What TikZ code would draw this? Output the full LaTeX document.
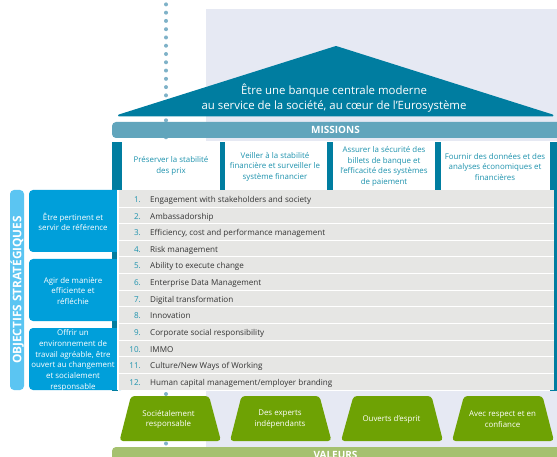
\documentclass[tikz,border=0pt]{standalone}
\usepackage{fontspec}
\setmainfont{Open Sans}
\definecolor{lav}{HTML}{E6E9F3}
\definecolor{teal1}{HTML}{007DA0}
\definecolor{teal2}{HTML}{61A5BC}
\definecolor{tealtxt}{HTML}{1F93AE}
\definecolor{dotc}{HTML}{7FB2C8}
\definecolor{blue1}{HTML}{009FDA}
\definecolor{blue2}{HTML}{5BC5F2}
\definecolor{rowc}{HTML}{E6E6E4}
\definecolor{green1}{HTML}{6EA204}
\definecolor{green2}{HTML}{A5C16F}
\tikzset{
  bartext/.style={font=\fontsize{10}{11}\selectfont\bfseries,text=white,inner sep=0pt},
  missiontext/.style={font=\fontsize{7.9}{10.5}\selectfont,text=tealtxt,align=center,inner sep=0pt},
  goaltext/.style={font=\fontsize{7.9}{10.7}\selectfont,text=white,align=center,inner sep=0pt},
  numtext/.style={font=\fontsize{8.1}{9}\selectfont,text=tealtxt,anchor=base east,inner sep=0pt},
  rowtext/.style={font=\fontsize{8.1}{9}\selectfont,text=black!80,anchor=base west,inner sep=0pt},
  valtext/.style={font=\fontsize{7.9}{10.8}\selectfont,text=white,align=center,inner sep=0pt},
  trap/.style={fill=green1,draw=none,rounded corners=3.5pt},
  pillar/.style={fill=teal1,draw=none},
  dotm/.style={fill=dotc,draw=none},
}
\begin{document}
\begin{tikzpicture}[x=1pt,y=-1pt]
\useasboundingbox (0,0) rectangle (557,457);
\clip (0,0) rectangle (557,457);
\fill[white] (0,0) rectangle (557,457);
% background
\fill[lav] (206,9) rectangle (557,141);
\fill[lav] (206,391) rectangle (557,450);
% dots
\foreach \i in {0,...,11} \fill[dotm] (166,{4.4+8.27*\i}) circle (2);
\foreach \yy in {120.3,137.3,394,443.5} \fill[dotm] (166,\yy) circle (2);
% roof
\fill[teal1,draw=teal1,line width=2pt,line join=round] (119,115.5) -- (336,47) -- (552.5,115.5) -- cycle;
\node[font=\fontsize{11.4}{15}\selectfont,text=white,align=center,inner sep=0pt] (vision) at (334,98) {Être une banque centrale moderne\\au service de la société, au cœur de l’Eurosystème};
% missions bar
\fill[teal2,rounded corners=4pt] (112,122) rectangle (570,138);
\node[bartext] (missions) at (335.5,130) {MISSIONS};
% pillars
\fill[pillar] (112,142) rectangle (122,190);
\fill[pillar] (220,142) rectangle (225,190);
\fill[pillar] (327,142) rectangle (333,190);
\fill[pillar] (435,142) rectangle (441,190);
\fill[pillar] (550,142) rectangle (557,391);
\fill[pillar] (112,190) rectangle (118,391);
% mission texts
\node[missiontext] (m1) at (171,165.7) {Préserver la stabilité\\des prix};
\node[missiontext] (m2) at (275,166.7) {Veiller à la stabilité\\financière et surveiller le\\système financier};
\node[missiontext] (m3) at (384,166.3) {Assurer la sécurité des\\billets de banque et\\l’efficacité des systèmes\\de paiement};
\node[missiontext] (m4) at (495,166.7) {Fournir des données et des\\analyses économiques et\\financières};
% side bar
\fill[blue2,rounded corners=4pt] (10,190) rectangle (24,390);
\node[font=\fontsize{11.8}{13}\selectfont\bfseries,text=white,rotate=90,inner sep=0pt] (obj) at (17,290) {OBJECTIFS STRATÉGIQUES};
% goals
\foreach \a/\b in {190/252,259/321,328/390}{
  \fill[blue1,rounded corners=4pt] (29,\a) rectangle (125,\b);
}
% rows
\fill[white] (117,190) rectangle (118.5,391);
\fill[rowc] (118.5,190.5) rectangle (554,390);
\foreach \i in {1,...,11} \fill[white] (118.5,{190.5+16.625*\i-0.5}) rectangle (554,{190.5+16.625*\i+0.5});
\fill[pillar] (112,252) rectangle (117,259);
\fill[pillar] (112,321) rectangle (117,328);
\fill[pillar] (112,390) rectangle (118,391);
\node[goaltext] (g1) at (73,222) {Être pertinent et\\servir de référence};
\node[goaltext] (g2) at (73,291) {Agir de manière\\efficiente et\\réfléchie};
\node[goaltext] (g3) at (73,360.3) {Offrir un\\environnement de\\travail agréable, être\\ouvert au changement\\et socialement\\responsable};
% rows text
\foreach \n/\t [count=\k from 0] in {1./{Engagement with stakeholders and society},2./{Ambassadorship},3./{Efficiency, cost and performance management},4./{Risk management},5./{Ability to execute change},6./{Enterprise Data Management},7./{Digital transformation},8./{Innovation},9./{Corporate social responsibility},10./{IMMO},11./{Culture/New Ways of Working},12./{Human capital management/employer branding}}{
  \node[numtext] (n\k) at (141,{202.4+16.63*\k}) {\n};
  \node[rowtext] (r\k) at (150,{202.4+16.63*\k}) {\t};
}
% values
\fill[trap] (131,396) -- (209,396) -- (221,441) -- (119.5,441) -- cycle;
\fill[trap] (241.5,396) -- (319.5,396) -- (331.5,441) -- (230,441) -- cycle;
\fill[trap] (353.5,396) -- (431.5,396) -- (443,441) -- (341,441) -- cycle;
\fill[trap] (464,396) -- (542.5,396) -- (554,441) -- (452,441) -- cycle;
\node[valtext] (v1) at (168.5,419.5) {Sociétalement\\responsable};
\node[valtext] (v2) at (280,419.5) {Des experts\\indépendants};
\node[valtext] (v3) at (391.5,419) {Ouverts d’esprit};
\node[valtext] (v4) at (502.5,419.5) {Avec respect et en\\confiance};
% valeurs bar
\fill[green2,rounded corners=4pt] (112,447) rectangle (570,470);
\node[bartext,anchor=base] (valeurs) at (335.5,458) {VALEURS};
\end{tikzpicture}
\end{document}
